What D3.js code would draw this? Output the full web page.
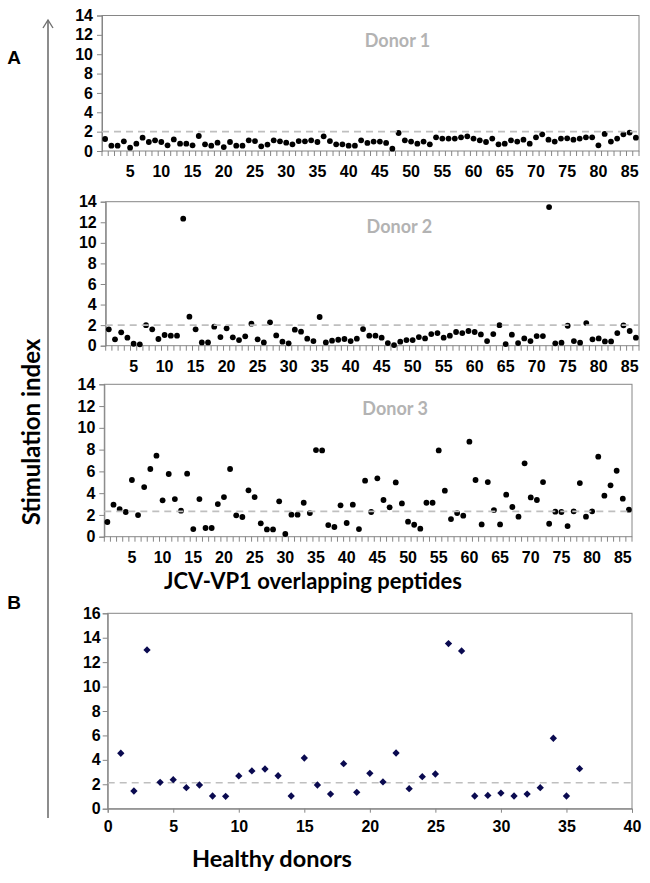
<!DOCTYPE html>
<html>
<head>
<meta charset="utf-8">
<script src="https://cdn.jsdelivr.net/npm/d3@7"></script>
<style>
  html, body { margin: 0; padding: 0; background: #fff; }
  svg { display: block; }
</style>
</head>
<body>
<svg id="chart" width="650" height="883"></svg>
<script>
// ---------------- DATA ----------------
const peptides = d3.range(1, 87);
const peptideTickLabels = [5, 10, 15, 20, 25, 30, 35, 40, 45, 50, 55, 60, 65, 70, 75, 80, 85];
const yTicksA = [0, 2, 4, 6, 8, 10, 12, 14];

const donor1 = [1.24,0.55,0.55,1.0,0.34,0.76,1.38,0.93,1.1,0.93,
  0.59,1.2,0.76,0.76,0.59,1.55,0.69,0.55,0.86,0.41,
  0.93,0.55,0.55,1.1,1.03,0.48,0.66,1.1,1.0,0.86,
  0.69,1.03,1.0,1.1,0.93,1.52,1.03,0.69,0.69,0.55,
  0.55,1.1,0.83,0.97,0.97,0.83,0.24,1.86,1.1,0.97,
  0.76,0.97,0.69,1.41,1.28,1.28,1.28,1.41,1.52,1.28,
  1.1,0.93,1.28,0.69,0.76,1.1,0.97,1.17,0.76,1.41,
  1.72,1.17,0.97,1.28,1.31,1.17,1.28,1.41,1.41,0.59,
  1.76,0.97,1.28,1.72,1.9,1.38];

const donor2 = [1.59,0.62,1.3,0.78,0.19,0.13,2.0,1.59,0.65,1.04,
  0.97,0.97,12.35,2.82,1.59,0.32,0.32,1.85,0.84,1.69,
  0.81,0.55,0.91,2.14,0.62,0.32,2.27,1.0,0.39,0.23,
  1.56,1.36,0.68,0.45,2.79,0.32,0.49,0.58,0.65,0.45,
  0.68,1.62,0.97,0.97,0.78,0.26,0.06,0.39,0.55,0.55,
  0.84,0.71,1.13,1.23,0.78,0.97,1.33,1.23,1.43,1.33,
  1.1,0.45,1.13,2.0,0.16,1.07,0.26,0.71,0.45,0.94,
  0.94,13.48,0.23,0.29,1.94,0.45,0.29,2.2,0.62,0.71,
  0.42,0.42,1.23,1.98,1.43,0.78];

const donor3 = [1.35,2.94,2.54,2.27,5.21,1.99,4.56,6.22,7.44,3.34,
  5.76,3.46,2.39,5.79,0.70,3.46,0.80,0.80,3.0,3.64,
  6.22,1.96,1.81,4.26,3.64,1.23,0.67,0.67,3.25,0.25,
  2.02,2.02,3.12,2.17,7.96,7.93,1.07,0.89,2.88,1.26,
  2.94,0.70,5.15,2.27,5.36,3.37,2.70,4.99,3.06,1.38,
  1.10,0.74,3.12,3.12,7.93,4.23,1.62,2.17,1.93,8.73,
  5.21,1.13,5.02,2.45,1.13,3.86,2.73,1.84,6.74,3.61,
  3.37,5.02,1.19,2.30,2.27,0.98,2.33,4.93,1.84,2.33,
  7.35,3.77,4.72,6.06,3.49,2.48];

const donorNames = ["Donor 1", "Donor 2", "Donor 3"];
const donorThresholds = [2.0, 2.0, 2.33];

const healthyDonors = d3.range(1, 37);
const healthy = [4.54,1.45,13.0,2.16,2.38,1.72,1.94,1.04,1.01,2.68,
  3.09,3.25,2.70,1.04,4.15,1.94,1.20,3.69,1.34,2.90,
  2.19,4.56,1.64,2.62,2.84,13.52,12.92,1.04,1.09,1.28,
  1.04,1.20,1.72,5.77,1.04,3.28];
const healthyThreshold = 2.13;
const xTicksB = [0, 5, 10, 15, 20, 25, 30, 35, 40];
const yTicksB = [0, 2, 4, 6, 8, 10, 12, 14, 16];

// ---------------- LAYOUT ----------------
const svg = d3.select("#chart");
const tickFont = "Liberation Sans, Arial, sans-serif";
const titleFont = "Lato, Open Sans, sans-serif";
const frameColor = "#868686";
const dashColor = "#bfbfbf";
const tickSize = 16;

function styleTickText(sel) {
  sel.style("font-family", tickFont).style("font-weight", "bold")
    .style("font-size", tickSize + "px").attr("fill", "#000");
}

const panelsA = [
  {left: 102,   right: 639, top: 15.5,  bottom: 151,   values: donor1},
  {left: 105.7, right: 639, top: 201.7, bottom: 345.7, values: donor2},
  {left: 104.3, right: 632, top: 384.3, bottom: 536.7, values: donor3}
];

panelsA.forEach((p, k) => {
  const g = svg.append("g");
  const x = d3.scaleLinear().domain([0.5, peptides.length + 0.5]).range([p.left, p.right]);
  const y = d3.scaleLinear().domain([0, 14]).range([p.bottom, p.top]);

  g.append("rect").attr("x", p.left).attr("y", p.top)
    .attr("width", p.right - p.left).attr("height", p.bottom - p.top)
    .attr("fill", "none").attr("stroke", frameColor).attr("stroke-width", 1);

  const ya = g.append("g").attr("transform", `translate(${p.left},0)`)
    .call(d3.axisLeft(y).tickValues(yTicksA).tickSize(5).tickFormat(d3.format("d")));
  ya.select(".domain").attr("stroke", frameColor);
  ya.selectAll(".tick line").attr("stroke", frameColor);
  ya.selectAll("text").call(styleTickText).attr("x", -9);

  const bounds = d3.range(0, peptides.length + 1).map(i => i + 0.5);
  g.append("g").selectAll("line").data(bounds).join("line")
    .attr("x1", d => x(d)).attr("x2", d => x(d))
    .attr("y1", p.bottom).attr("y2", p.bottom + 5)
    .attr("stroke", frameColor).attr("stroke-width", 1);
  g.append("g").selectAll("text").data(peptideTickLabels).join("text")
    .attr("x", d => x(d)).attr("y", p.bottom + 26)
    .attr("text-anchor", "middle")
    .call(styleTickText)
    .text(d => d);

  g.append("text").attr("x", (p.left + p.right) / 2 + 27).attr("y", p.top + 31)
    .attr("text-anchor", "middle").style("font-family", titleFont)
    .style("font-weight", "bold").style("font-size", "18px").attr("fill", "#b3b3b3")
    .text(donorNames[k]);

  g.append("g").selectAll("circle").data(p.values).join("circle")
    .attr("cx", (d, i) => x(peptides[i])).attr("cy", d => y(d))
    .attr("r", 2.9).attr("fill", "#000");

  g.append("line").attr("x1", p.left).attr("x2", p.right)
    .attr("y1", y(donorThresholds[k])).attr("y2", y(donorThresholds[k]))
    .attr("stroke", dashColor).attr("stroke-width", 1.6)
    .attr("stroke-dasharray", "7,5");
});

// ---------------- PANEL B ----------------
{
  const p = {left: 107.7, right: 632, top: 613.3, bottom: 808.7};
  const g = svg.append("g");
  const x = d3.scaleLinear().domain([0, 40]).range([p.left, p.right]);
  const y = d3.scaleLinear().domain([0, 16]).range([p.bottom, p.top]);

  g.append("rect").attr("x", p.left).attr("y", p.top)
    .attr("width", p.right - p.left).attr("height", p.bottom - p.top)
    .attr("fill", "none").attr("stroke", frameColor).attr("stroke-width", 1);

  const ya = g.append("g").attr("transform", `translate(${p.left},0)`)
    .call(d3.axisLeft(y).tickValues(yTicksB).tickSize(5).tickFormat(d3.format("d")));
  ya.select(".domain").attr("stroke", frameColor);
  ya.selectAll(".tick line").attr("stroke", frameColor);
  ya.selectAll("text").call(styleTickText).attr("x", -7);

  const xa = g.append("g").attr("transform", `translate(0,${p.bottom})`)
    .call(d3.axisBottom(x).tickValues(xTicksB).tickSize(4).tickFormat(d3.format("d")));
  xa.select(".domain").attr("stroke", frameColor);
  xa.selectAll(".tick line").attr("stroke", frameColor);
  xa.selectAll("text").call(styleTickText).attr("y", 12);

  g.append("line").attr("x1", p.left).attr("x2", p.right + 3)
    .attr("y1", y(healthyThreshold)).attr("y2", y(healthyThreshold))
    .attr("stroke", dashColor).attr("stroke-width", 1.6)
    .attr("stroke-dasharray", "7,5");

  g.append("g").selectAll("path").data(healthy).join("path")
    .attr("d", d3.symbol().type(d3.symbolDiamond2).size(34))
    .attr("transform", (d, i) => `translate(${x(healthyDonors[i])},${y(d)})`)
    .attr("fill", "#0a0a50");
}

// ---------------- ANNOTATIONS ----------------
svg.append("line").attr("x1", 48).attr("x2", 48).attr("y1", 20).attr("y2", 818)
  .attr("stroke", "#707070").attr("stroke-width", 1.6);
svg.append("path").attr("d", "M43,28 L48,20 L53,28")
  .attr("fill", "none").attr("stroke", "#707070").attr("stroke-width", 1.4);

svg.append("text").attr("x", 14).attr("y", 64).attr("text-anchor", "middle")
  .style("font-family", tickFont).style("font-weight", "bold").style("font-size", "19px").text("A");
svg.append("text").attr("x", 14).attr("y", 609).attr("text-anchor", "middle")
  .style("font-family", tickFont).style("font-weight", "bold").style("font-size", "19px").text("B");

svg.append("text").attr("transform", "translate(40,432) rotate(-90)")
  .attr("text-anchor", "middle").style("font-family", titleFont)
  .style("font-weight", "bold").style("font-size", "24px").text("Stimulation index");

svg.append("text").attr("x", 313).attr("y", 589).attr("text-anchor", "middle")
  .style("font-family", titleFont).style("font-weight", "bold").style("font-size", "22px")
  .text("JCV-VP1 overlapping peptides");

svg.append("text").attr("x", 272).attr("y", 867).attr("text-anchor", "middle")
  .style("font-family", titleFont).style("font-weight", "bold").style("font-size", "23.5px")
  .text("Healthy donors");
</script>
</body>
</html>
